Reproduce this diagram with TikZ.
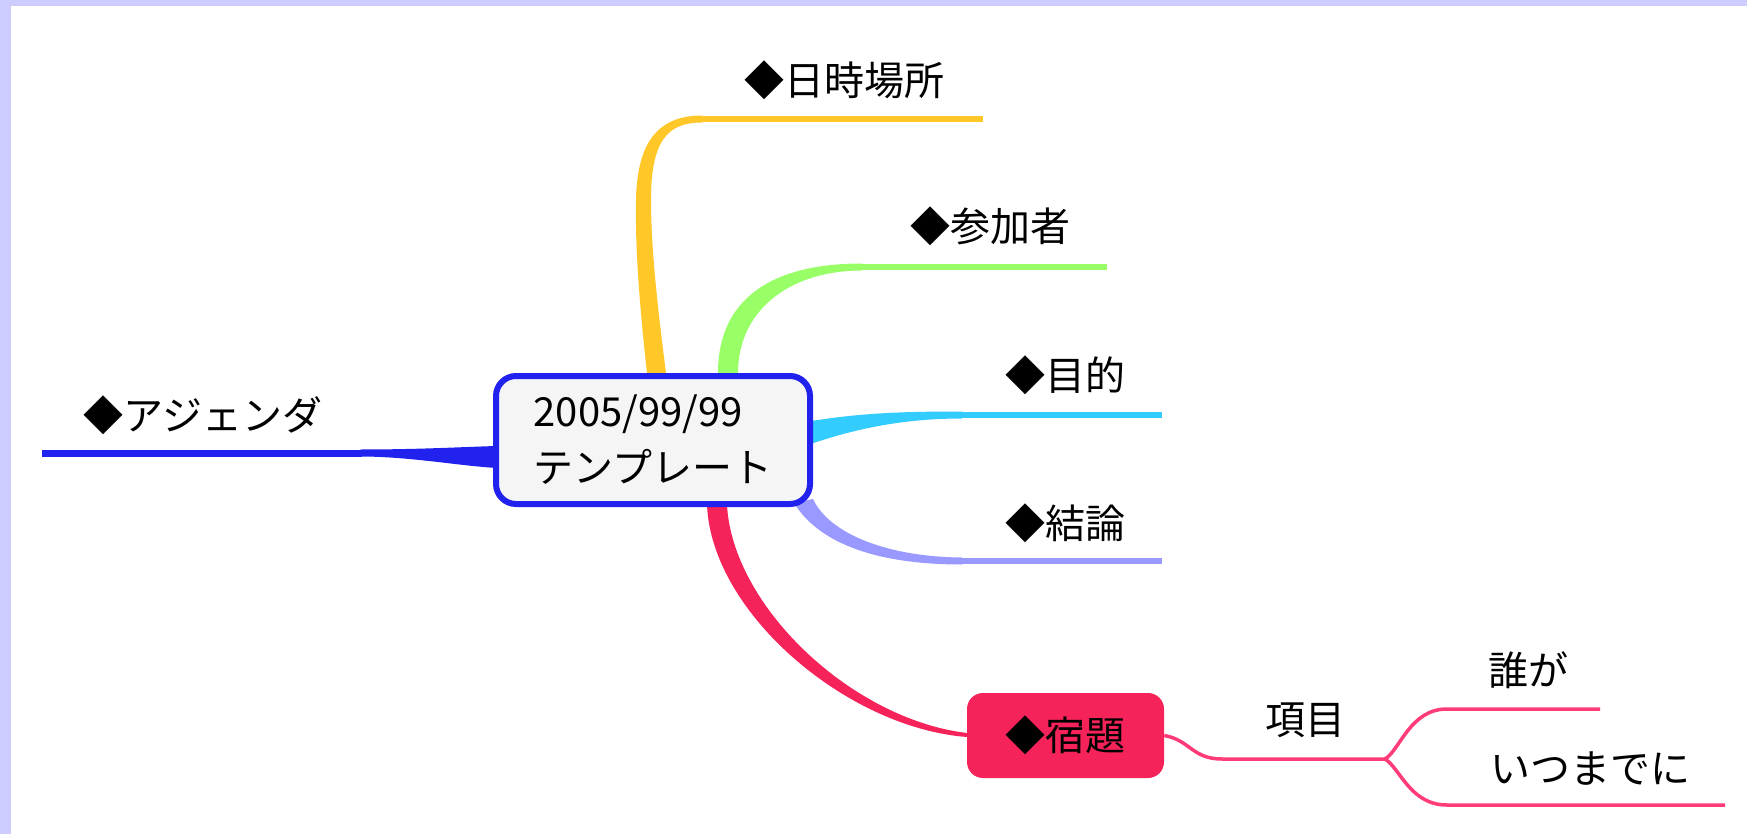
\documentclass[tikz,border=0pt]{standalone}
\usepackage{fontspec}
\setmainfont{Noto Sans CJK JP}
\definecolor{band}{RGB}{204,204,255}
\definecolor{cblue}{RGB}{34,34,238}
\definecolor{cyel}{RGB}{255,200,40}
\definecolor{cgreen}{RGB}{153,255,102}
\definecolor{ccyan}{RGB}{51,204,255}
\definecolor{clav}{RGB}{153,153,255}
\definecolor{cred}{RGB}{245,35,90}
\definecolor{cpink}{RGB}{255,60,120}
\definecolor{boxfill}{RGB}{245,245,245}
\begin{document}
\begin{tikzpicture}[x=1pt,y=-1pt,
  lbl/.style={font=\fontsize{40}{56}\selectfont, inner sep=0pt},
  branchline/.style={line width=6pt},
  subline/.style={cpink, line width=3.5pt}]
\useasboundingbox (0,0) rectangle (1747,834);
\fill[white] (0,0) rectangle (1747,834);
\fill[band] (0,0) rectangle (1747,6);
\fill[band] (0,0) rectangle (11,834);

% line ends
\coordinate (e1) at (983,119);
\coordinate (e2) at (1107,267);
\coordinate (e3) at (1162,415);
\coordinate (e4) at (1162,561);
\coordinate (e5) at (42,453);
\coordinate (fork) at (1385,759);
\coordinate (h1) at (1600,709);
\coordinate (h2) at (1725,805);

% yellow
\fill[cyel] (647,373) .. controls (640,310) and (635,250) .. (636,200) .. controls (637,140) and (660,115.5) .. (702,115.5) -- (702,122.5) .. controls (668,122.5) and (651,140) .. (651,200) .. controls (651,250) and (658,310) .. (666,373) -- cycle;
\draw[cyel, branchline] (700,119) -- (e1);
% green
\fill[cgreen] (718,373) .. controls (718,300) and (770,263.5) .. (862,263.5) -- (862,270.5) .. controls (790,270.5) and (738,310) .. (738,373) -- cycle;
\draw[cgreen, branchline] (860,267) -- (e2);
% cyan
\fill[ccyan] (805,422) .. controls (860,413) and (900,411.5) .. (962,411.5) -- (962,418.5) .. controls (900,418.5) and (850,430) .. (805,446) -- cycle;
\draw[ccyan, branchline] (960,415) -- (e3);
% lavender
\fill[clav] (794,503) .. controls (820,545) and (880,564.5) .. (962,564.5) -- (962,557.5) .. controls (890,557) and (830,535) .. (813,499) -- cycle;
\draw[clav, branchline] (960,561) -- (e4);
% red
\fill[cred] (707,505) .. controls (711.5,613.3) and (847.5,728) .. (967,737) -- (967,733) .. controls (852.5,719.5) and (732.5,606.7) .. (727,505) -- cycle;
% blue
\fill[cblue] (360,449.5) .. controls (420,449.5) and (460,447) .. (497,446) -- (497,468) .. controls (460,466) and (410,456.5) .. (360,456.5) -- cycle;
\draw[cblue, line width=7pt] (e5) -- (362,453);

% central node
\node[draw=cblue, line width=6pt, fill=boxfill, rounded corners=20pt,
      minimum width=314pt, minimum height=128pt, align=left, lbl] (c) at (653,440)
      {2005/99/99\\テンプレート};

% main labels
\node[lbl] (l1) at (844,80) {◆日時場所};
\node[lbl] (l2) at (990,226) {◆参加者};
\node[lbl] (l3) at (1065,375) {◆目的};
\node[lbl] (l4) at (1065,523) {◆結論};
\node[lbl] (l5) at (203,415) {◆アジェンダ};

% homework node
\node[fill=cred, rounded corners=16pt, minimum width=197pt, minimum height=85pt, lbl] (h) at (1065.5,735.5) {◆宿題};

% sub branches
\draw[subline] (h.east) .. controls (1190,740) and (1192,759) .. (1222,759) -- (fork);
\draw[subline] (fork) .. controls (1400,750) and (1410,709) .. (1447,709) -- (h1);
\draw[subline] (fork) .. controls (1400,768) and (1410,805) .. (1447,805) -- (h2);

\node[lbl] (s0) at (1305,720) {項目};
\node[lbl] (s1) at (1528,670) {誰が};
\node[lbl] (s2) at (1590,769) {いつまでに};
\end{tikzpicture}
\end{document}
